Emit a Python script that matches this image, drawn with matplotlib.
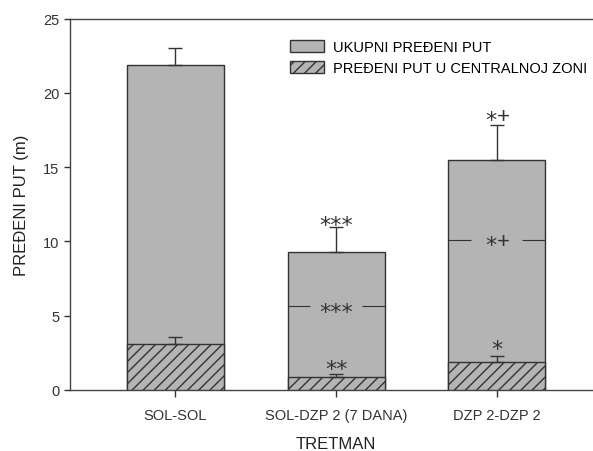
import numpy as np
import matplotlib.pyplot as plt

plt.rcParams['font.family'] = ['Liberation Sans', 'DejaVu Sans']

groups = ["SOL-SOL", "SOL-DZP 2 (7 DANA)", "DZP 2-DZP 2"]
total = [21.87, 9.27, 15.5]
total_err = [1.14, 1.73, 2.31]
central = [3.1, 0.9, 1.88]
central_err = [0.49, 0.18, 0.43]

# significance marks: (group index, y of mark, stars, plus, line across bar)
marks = [
    (1, 11.5, "***", "", False),
    (1, 5.63, "***", "", True),
    (1, 1.8, "**", "", False),
    (2, 18.5, "*", "+", False),
    (2, 10.11, "*", "+", True),
    (2, 3.16, "*", "", False),
]

bar_color = "#b4b4b4"
edge = "#333333"
x = np.arange(len(groups))
w = 0.605
gap = 0.16

fig = plt.figure(figsize=(5.93, 4.52), dpi=100)
ax = fig.add_axes([70/593, 1 - 391/452, 1 - 70/593, (391 - 19.5)/452])

ax.bar(x, total, w, color=bar_color, edgecolor=edge, linewidth=1.0,
       label="UKUPNI PREĐENI PUT", zorder=2)
ax.errorbar(x, total, yerr=[np.zeros(3), total_err], fmt='none', ecolor=edge,
            elinewidth=1.0, capsize=5, capthick=1.0, zorder=3)
ax.bar(x, central, w, color=bar_color, edgecolor=edge, linewidth=1.0, hatch='///',
       label="PREĐENI PUT U CENTRALNOJ ZONI", zorder=4)
ax.errorbar(x, central, yerr=[np.zeros(3), central_err], fmt='none', ecolor=edge,
            elinewidth=1.0, capsize=5, capthick=1.0, zorder=5)

for i, yv, stars, plus, line in marks:
    if line:
        ax.hlines(yv, x[i] - w/2, x[i] - gap, color=edge, linewidth=0.8, zorder=5)
        ax.hlines(yv, x[i] + gap, x[i] + w/2, color=edge, linewidth=0.8, zorder=5)
    if plus:
        ax.annotate(stars, (x[i], yv), xytext=(0, -3.5), textcoords='offset points',
                    ha='right', va='center', fontsize=16, color=edge,
                    family=['DejaVu Sans'], zorder=6)
        ax.annotate(plus, (x[i], yv), xytext=(0, -1), textcoords='offset points',
                    ha='left', va='center', fontsize=16, color=edge,
                    family=['Liberation Sans'], fontweight='light', zorder=6)
    else:
        ax.annotate(stars, (x[i], yv), xytext=(0, -4), textcoords='offset points',
                    ha='center', va='center', fontsize=16, color=edge,
                    family=['DejaVu Sans'], zorder=6)

ax.set_xlim(-0.657, 2.60)
ax.set_ylim(0, 25)
ax.set_yticks([0, 5, 10, 15, 20, 25])
ax.set_xticks(x)
ax.set_xticklabels(groups)
ax.tick_params(axis='both', labelsize=10.5, colors='#333333', width=1.0)
ax.tick_params(axis='y', length=4)
ax.tick_params(axis='x', length=5, pad=8)
ax.spines['right'].set_visible(False)
for s in ['left', 'top', 'bottom']:
    ax.spines[s].set_color('#444444')
    ax.spines[s].set_linewidth(1.0)

ax.set_ylabel("PREĐENI PUT (m)", fontsize=12, color='#222222', labelpad=10)
fig.text(336/593, 0.0, "TRETMAN", ha='center', va='bottom', fontsize=12,
         color='#222222')

ax.legend(loc='upper left', bbox_to_anchor=(0.41, 0.958), frameon=False,
          fontsize=10.5, handlelength=2.3, handleheight=0.9, handletextpad=0.6,
          labelspacing=0.45, borderaxespad=0)

fig.savefig("out.png", dpi=100)
